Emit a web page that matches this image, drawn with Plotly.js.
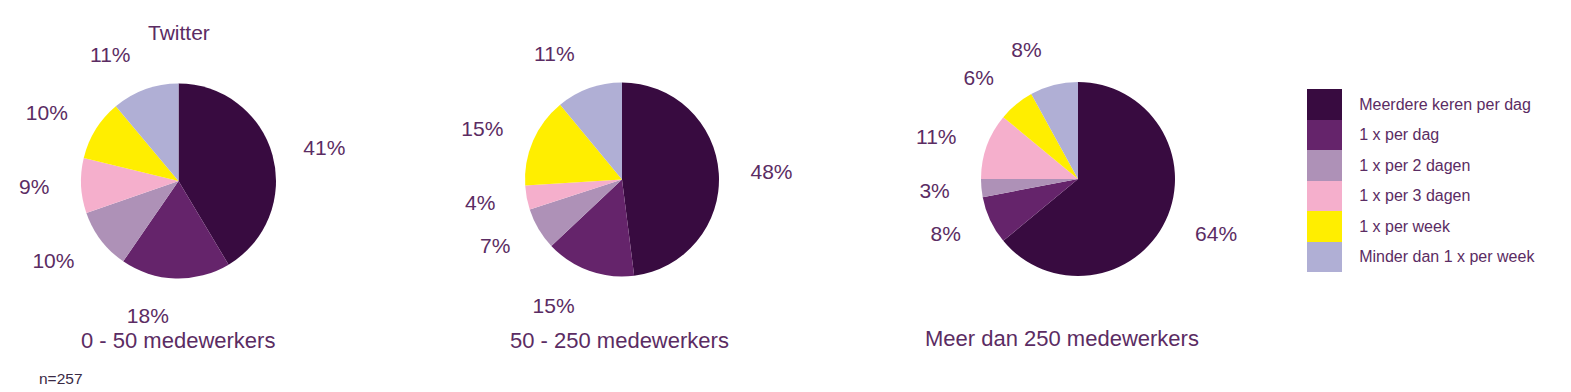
<!DOCTYPE html>
<html>
<head>
<meta charset="utf-8">
<script src="https://cdn.plot.ly/plotly-3.0.1.min.js"></script>
<style>html,body{margin:0;padding:0;background:#fff;}#chart{width:1571px;height:392px;}</style>
</head>
<body>
<div id="chart"></div>
<script>
// ---- data ----
var categories = ["Meerdere keren per dag", "1 x per dag", "1 x per 2 dagen", "1 x per 3 dagen", "1 x per week", "Minder dan 1 x per week"];
var colors = ["#380b40", "#65246b", "#ae91b7", "#f5afcc", "#ffee00", "#b0afd5"];
var groupNames = ["0 - 50 medewerkers", "50 - 250 medewerkers", "Meer dan 250 medewerkers"];
var valuesSmall = [41, 18, 10, 9, 10, 11];
var valuesMedium = [48, 15, 7, 4, 15, 11];
var valuesLarge = [64, 8, 3, 11, 6, 8];
var legendValues = [1, 1, 1, 1, 1, 1];
var chartTitle = "Twitter";
var sampleNote = "n=257";

// ---- layout helpers ----
var W = 1571, H = 392;
var txtColor = "#5b2c63";
var fontFam = "Liberation Sans, Arial, sans-serif";
function dom(cx, cy, r) {
  return { x: [(cx - r) / W, (cx + r) / W], y: [1 - (cy + r) / H, 1 - (cy - r) / H] };
}
var pies = [
  { vals: valuesSmall, cx: 178.5, cy: 181, r: 97.5 },
  { vals: valuesMedium, cx: 622, cy: 179.5, r: 97 },
  { vals: valuesLarge, cx: 1078, cy: 179, r: 97 }
];
var traces = [];
pies.forEach(function (p) {
  traces.push({
    type: "pie", values: p.vals, labels: categories, sort: false, direction: "clockwise", rotation: 0,
    marker: { colors: colors, line: { width: 0 } }, textinfo: "none", hoverinfo: "skip",
    domain: dom(p.cx, p.cy, p.r), showlegend: false
  });
  traces.push({
    type: "pie", values: p.vals, labels: categories, sort: false, direction: "clockwise", rotation: 0,
    marker: { colors: colors.map(function () { return "rgba(0,0,0,0)"; }), line: { width: 0 } },
    texttemplate: "%{value}%", textposition: "outside", automargin: false,
    outsidetextfont: { size: 21, color: txtColor, family: fontFam },
    hoverinfo: "skip", domain: dom(p.cx, p.cy, p.r + 26), showlegend: false
  });
});
// legend as a column of swatches
traces.push({
  type: "bar", orientation: "h", x: legendValues, y: categories, xaxis: "x", yaxis: "y",
  marker: { color: colors, line: { width: 0 } }, hoverinfo: "skip", showlegend: false
});

function ann(text, px, py, size, color, xanchor) {
  return { text: text, x: px / W, y: 1 - py / H, xref: "paper", yref: "paper", xanchor: xanchor || "center",
    yanchor: "middle", showarrow: false, font: { size: size, color: color || txtColor, family: fontFam } };
}
var layout = {
  width: W, height: H, margin: { l: 0, r: 0, t: 0, b: 0 },
  paper_bgcolor: "#fff", plot_bgcolor: "rgba(0,0,0,0)", showlegend: false, bargap: 0,
  font: { family: fontFam, color: txtColor },
  xaxis: { domain: [1307 / W, 1342 / W], range: [0, 1], visible: false, fixedrange: true },
  yaxis: {
    domain: [1 - 272 / H, 1 - 89 / H], type: "category", autorange: "reversed", side: "right",
    showgrid: false, zeroline: false, showline: false, ticks: "outside", ticklen: 13,
    tickcolor: "rgba(0,0,0,0)", tickfont: { size: 16, color: txtColor, family: fontFam }
  },
  annotations: [
    ann(chartTitle, 179, 33, 21),
    ann(groupNames[0], 178, 340, 22),
    ann(groupNames[1], 619, 340, 22),
    ann(groupNames[2], 1062, 338, 22),
    ann(sampleNote, 37, 378, 15.5, "#3a2a45", "left")
  ]
};
Plotly.newPlot("chart", traces, layout, { staticPlot: true, displayModeBar: false });
</script>
</body>
</html>
